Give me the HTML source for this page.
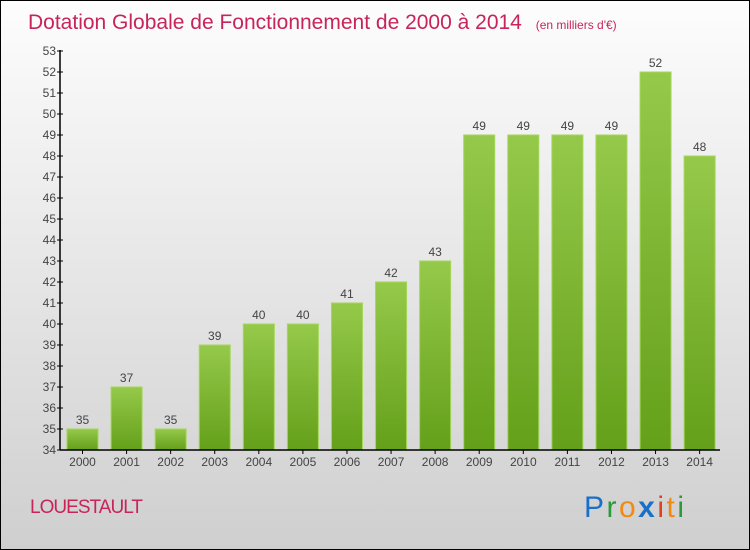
<!DOCTYPE html>
<html><head><meta charset="utf-8"><style>
body{margin:0}
#c{width:750px;height:550px;position:relative;box-sizing:border-box;border:1px solid #000;background:linear-gradient(#fdfdfd,#cfcfcf);font-family:"Liberation Sans",sans-serif;overflow:hidden}
</style></head><body>
<div id="c">
<svg id="s" width="750" height="550" style="position:absolute;left:-1px;top:-1px">
<defs><linearGradient id="g" x1="0" y1="0" x2="0" y2="1"><stop offset="0" stop-color="#95c94a"/><stop offset="1" stop-color="#64a01a"/></linearGradient></defs>
<text x="28" y="29" font-size="21" fill="#c8245a">Dotation Globale de Fonctionnement de 2000 à 2014 <tspan font-size="12" dx="8">(en milliers d'€)</tspan></text>
<text x="30" y="513" font-size="19" fill="#c8245a" textLength="113">LOUESTAULT</text>
<g font-size="30" font-family="'Liberation Sans',sans-serif">
<text x="584" y="517" textLength="100"><tspan fill="#1a6fc7">P</tspan><tspan fill="#2a9a3a">r</tspan><tspan fill="#f08a10">o</tspan><tspan fill="#1a6fc7" font-weight="bold">x</tspan><tspan fill="#e0401a">i</tspan><tspan fill="#f08a10">t</tspan><tspan fill="#2a9a3a">i</tspan></text></g>
<g id="bars"></g><g id="axes"></g>
</svg>
</div>
<script>
const years=["2000","2001","2002","2003","2004","2005","2006","2007","2008","2009","2010","2011","2012","2013","2014"];
const values=[35,37,35,39,40,40,41,42,43,49,49,49,49,52,48];
const yTicks=[34,35,36,37,38,39,40,41,42,43,44,45,46,47,48,49,50,51,52,53];
const NS="http://www.w3.org/2000/svg";
const y=v=>450-(v-34)*(399/19);
const x=i=>82.5+i*44.08;
function el(t,a,p){const e=document.createElementNS(NS,t);for(const k in a)e.setAttribute(k,a[k]);p.appendChild(e);return e;}
const B=document.getElementById('bars'),A=document.getElementById('axes');
values.forEach((v,i)=>{
 const r=el('rect',{x:x(i)-15.5,y:y(v),width:31,height:450-y(v),fill:'url(#g)',stroke:'#a5d65a','stroke-width':1},B);
 
 
 const t=el('text',{x:x(i),y:y(v)-5,'text-anchor':'middle','font-size':12,fill:'#444'},B);t.textContent=v;
 
 
 const l=el('text',{x:x(i),y:466,'text-anchor':'middle','font-size':12,fill:'#444'},A);l.textContent=years[i];
 
 
 el('line',{x1:x(i),x2:x(i),y1:450,y2:454,stroke:'#000'},A);
});
el('line',{x1:60,x2:720,y1:450,y2:450,stroke:'#000','stroke-width':1.5},A);
el('line',{x1:60,x2:60,y1:50,y2:450,stroke:'#000','stroke-width':1.5},A);
yTicks.forEach(v=>{
 el('line',{x1:57,x2:63,y1:y(v),y2:y(v),stroke:'#000'},A);
 const t=el('text',{x:56,y:y(v)+4,'text-anchor':'end','font-size':12,fill:'#444'},A);t.textContent=v;
 
 
});
</script>
</body></html>
